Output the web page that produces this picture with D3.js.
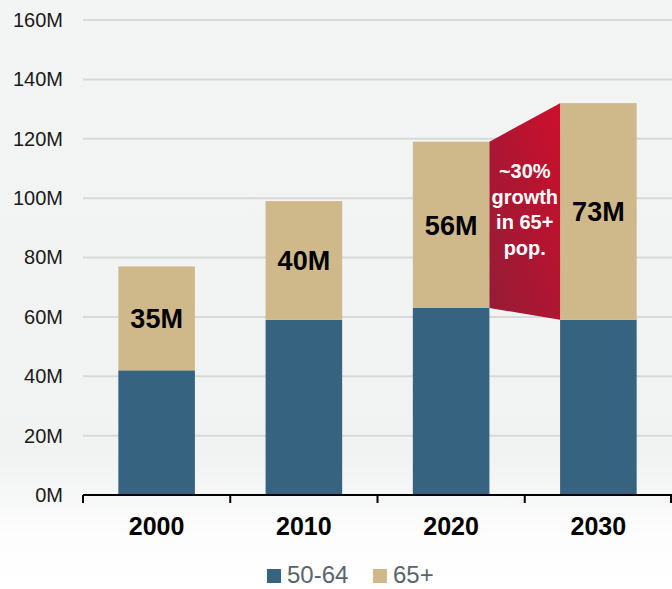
<!DOCTYPE html>
<html>
<head>
<meta charset="utf-8">
<script src="https://cdn.jsdelivr.net/npm/d3@7"></script>
<style>
  html, body { margin: 0; padding: 0; background: #ffffff; }
  svg { display: block; font-family: "Liberation Sans", Arial, sans-serif; }
</style>
</head>
<body>
<svg id="chart" width="672" height="589"></svg>
<script>
// Population by age group, millions
const years = ["2000", "2010", "2020", "2030"];
const age50to64 = [42, 59, 63, 59];
const age65plus = [35, 40, 56, 73];
const yTicks = [0, 20, 40, 60, 80, 100, 120, 140, 160];
const seriesNames = ["50-64", "65+"];
const growthNote = ["~30%", "growth", "in 65+", "pop."];

const colors = { "50-64": "#36637f", "65+": "#cfb98a" };

const W = 672, H = 589;
const svg = d3.select("#chart");
const defs = svg.append("defs");

// soft grey backdrop fading to white at the bottom
const bg = defs.append("linearGradient").attr("id", "bg")
  .attr("x1", 0).attr("y1", 0).attr("x2", 0).attr("y2", 1);
bg.append("stop").attr("offset", "0%").attr("stop-color", "#f3f4f4");
bg.append("stop").attr("offset", "78%").attr("stop-color", "#f1f2f2");
bg.append("stop").attr("offset", "91%").attr("stop-color", "#fdfdfd");
bg.append("stop").attr("offset", "100%").attr("stop-color", "#ffffff");
svg.append("rect").attr("width", W).attr("height", H).attr("fill", "url(#bg)");

// red wedge gradient
const red = defs.append("linearGradient").attr("id", "wedge")
  .attr("x1", 0).attr("y1", 1).attr("x2", 1).attr("y2", 0);
red.append("stop").attr("offset", "0%").attr("stop-color", "#931c36");
red.append("stop").attr("offset", "100%").attr("stop-color", "#cc0f2d");

const x = d3.scaleBand().domain(years).range([83, 672])
  .paddingInner(0.48).paddingOuter(0.24);
const y = d3.scaleLinear().domain([0, 160]).range([495, 20]);

// gridlines
svg.append("g").selectAll("line").data(yTicks.filter(d => d > 0)).join("line")
  .attr("x1", 83).attr("x2", W)
  .attr("y1", d => y(d)).attr("y2", d => y(d))
  .attr("stroke", "#d8d9da").attr("stroke-width", 2);

// y-axis labels
const yAxis = d3.axisLeft(y).tickValues(yTicks).tickFormat(d => d + "M").tickSize(0).tickPadding(0);
const gy = svg.append("g").attr("transform", "translate(63,0)").call(yAxis);
gy.select(".domain").remove();
gy.selectAll("text").attr("font-size", 20).attr("fill", "#1a1a1a")
  .attr("font-family", "'Liberation Sans', Arial, sans-serif");

// stacked bars
const rows = years.map((yr, i) => ({ year: yr, a: age50to64[i], b: age65plus[i] }));
const stack = d3.stack().keys(["a", "b"])(rows);
const keyName = { a: "50-64", b: "65+" };

svg.append("g").selectAll("g").data(stack).join("g")
  .attr("fill", s => colors[keyName[s.key]])
  .selectAll("rect").data(s => s).join("rect")
  .attr("x", d => x(d.data.year))
  .attr("width", x.bandwidth())
  .attr("y", d => y(d[1]))
  .attr("height", d => y(d[0]) - y(d[1]));

// growth wedge between the 2020 and 2030 65+ segments
const upper = stack[1];
const i0 = 2, i1 = 3;
const xa = x(years[i0]) + x.bandwidth(), xb = x(years[i1]);
const wedge = [
  [xa, y(upper[i0][1])], [xb, y(upper[i1][1])],
  [xb, y(upper[i1][0])], [xa, y(upper[i0][0])]
];
svg.append("path").attr("d", d3.line()(wedge) + "Z").attr("fill", "url(#wedge)");

const wx = (xa + xb) / 2;
svg.append("g").selectAll("text").data(growthNote).join("text")
  .attr("x", wx).attr("y", (d, i) => 178 + i * 25.5)
  .attr("text-anchor", "middle")
  .attr("font-size", 20).attr("font-weight", "bold").attr("fill", "#ffffff")
  .text(d => d);

// value labels in the 65+ segments
svg.append("g").selectAll("text").data(upper).join("text")
  .attr("x", d => x(d.data.year) + x.bandwidth() / 2)
  .attr("y", d => (y(d[0]) + y(d[1])) / 2)
  .attr("dy", "0.36em")
  .attr("text-anchor", "middle")
  .attr("font-size", 27).attr("font-weight", "bold").attr("fill", "#000")
  .text(d => (d[1] - d[0]) + "M");

// x axis: baseline with ticks at category boundaries
const step = x.step();
const x0 = 83;
svg.append("line").attr("x1", x0).attr("x2", W).attr("y1", 495).attr("y2", 495)
  .attr("stroke", "#000").attr("stroke-width", 2);
svg.append("g").selectAll("line").data(d3.range(years.length + 1)).join("line")
  .attr("x1", i => Math.min(x0 + i * step, W - 1)).attr("x2", i => Math.min(x0 + i * step, W - 1))
  .attr("y1", 495).attr("y2", 503)
  .attr("stroke", "#000").attr("stroke-width", 2);

const xAxis = d3.axisBottom(x).tickSize(0).tickPadding(0);
const gx = svg.append("g").attr("transform", "translate(0,535)").call(xAxis);
gx.select(".domain").remove();
gx.selectAll("text").attr("dy", 0).attr("font-size", 25).attr("font-weight", "bold")
  .attr("fill", "#000").attr("font-family", "'Liberation Sans', Arial, sans-serif");

// legend
const legendX = [267, 373];
const lg = svg.append("g").selectAll("g").data(seriesNames).join("g")
  .attr("transform", (d, i) => `translate(${legendX[i]},569)`);
lg.append("rect").attr("width", 14).attr("height", 14).attr("fill", d => colors[d]);
lg.append("text").attr("x", 20).attr("y", 14)
  .attr("font-size", 24).attr("fill", "#59646b").text(d => d);
</script>
</body>
</html>
